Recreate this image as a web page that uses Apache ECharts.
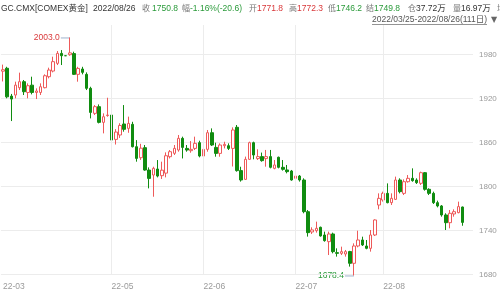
<!DOCTYPE html>
<html><head><meta charset="utf-8">
<script src="https://cdn.jsdelivr.net/npm/echarts@6/dist/echarts.min.js"></script>
<style>html,body{margin:0;padding:0;background:#fff}#c{width:500px;height:293px}</style>
</head><body><div id="c"></div>
<script>
// ---- categories (trading days) ----
const dates = [
'2022-03-25','2022-03-28','2022-03-29','2022-03-30','2022-03-31',
'2022-04-01','2022-04-04','2022-04-05','2022-04-06','2022-04-07','2022-04-08','2022-04-11','2022-04-12','2022-04-13','2022-04-14','2022-04-15','2022-04-18','2022-04-19','2022-04-20','2022-04-21','2022-04-22','2022-04-25','2022-04-26','2022-04-27','2022-04-28','2022-04-29',
'2022-05-02','2022-05-03','2022-05-04','2022-05-05','2022-05-06','2022-05-09','2022-05-10','2022-05-11','2022-05-12','2022-05-13','2022-05-16','2022-05-17','2022-05-18','2022-05-19','2022-05-20','2022-05-23','2022-05-24','2022-05-25','2022-05-26','2022-05-27','2022-05-30','2022-05-31',
'2022-06-01','2022-06-02','2022-06-03','2022-06-06','2022-06-07','2022-06-08','2022-06-09','2022-06-10','2022-06-13','2022-06-14','2022-06-15','2022-06-16','2022-06-17','2022-06-20','2022-06-21','2022-06-22','2022-06-23','2022-06-24','2022-06-27','2022-06-28','2022-06-29','2022-06-30',
'2022-07-01','2022-07-04','2022-07-05','2022-07-06','2022-07-07','2022-07-08','2022-07-11','2022-07-12','2022-07-13','2022-07-14','2022-07-15','2022-07-18','2022-07-19','2022-07-20','2022-07-21','2022-07-22','2022-07-25','2022-07-26','2022-07-27','2022-07-28','2022-07-29',
'2022-08-01','2022-08-02','2022-08-03','2022-08-04','2022-08-05','2022-08-08','2022-08-09','2022-08-10','2022-08-11','2022-08-12','2022-08-15','2022-08-16','2022-08-17','2022-08-18','2022-08-19','2022-08-22','2022-08-23','2022-08-24','2022-08-25','2022-08-26'
];
// ---- series values ----
const opens = [
1957,1961,1923,1924.5,1934.5,1942.7,1928,1938,1928,1928,1934.5,1949.5,1957.2,1967.7,1981.3,1978.1,1979.5,1981,1952.7,1960,1952.7,1933.6,1899.5,1908.6,1887.2,1896.5,
1897.2,1864,1870,1885,1879,1884.5,1854,1839,1852.7,1822.2,1815.4,1823.6,1814.5,1818,1840.4,1845,1849.5,1865.4,1851.7,1848.6,1851.7,1859.5,
1841.3,1850.4,1873.1,1853.1,1844.9,1855.4,1855.4,1851.7,1880.5,1821.4,1809.5,1836.8,1859.5,1837.8,1840.5,1837.8,1840.5,1824.5,1839.6,1825.9,1822.3,1820.9,
1810.9,1814,1808.6,1765.4,1737.7,1739.5,1744.1,1733.6,1724.5,1735,1709.5,1708.6,1707.7,1711,1695,1718.6,1726.8,1718.6,1715.4,1733.6,1774.5,
1781.3,1790.4,1777.7,1782.2,1808.6,1790.4,1806.3,1810.9,1808.6,1804.1,1818.6,1795.9,1790.4,1777.7,1773.2,1760.9,1750.4,1762.3,1764.1,1771.8
];
const closes = [
1959,1922,1919,1938,1942.7,1929,1937.2,1928,1930,1935.8,1950.8,1958.6,1970,1981.3,1978.1,1978.1,1982,1952.7,1960.8,1955.4,1933.6,1900.8,1908.6,1887.2,1894.9,1897.2,
1863.1,1874,1883,1877.7,1885.8,1854,1838.1,1852,1822.2,1810.8,1824.5,1814,1822,1841.7,1847.2,1851.7,1865.4,1853.1,1849.5,1850.4,1858.6,1841.3,
1850.4,1873.1,1856.3,1844.9,1856.3,1857.2,1851.7,1876.8,1821.4,1808.6,1836.8,1859.5,1842.7,1840.5,1835,1840.5,1825.9,1829.1,1825.9,1823.2,1820,1808.6,
1814,1808.6,1765.4,1736.8,1740.5,1742.7,1732.3,1725.9,1735,1710.9,1708.6,1710.9,1710.9,1695,1718.6,1726.8,1720,1715.4,1733.6,1754.1,1783.6,
1790.4,1777.7,1783.6,1808.6,1792.7,1806.3,1810.9,1807.7,1805,1818.6,1795.9,1790.4,1777.7,1773.2,1760.9,1750.4,1763.2,1765.4,1772.3,1750.8
];
const lows = [
1943,1920,1889,1920,1931.3,1924.5,1920,1925.4,1919,1924.5,1933.6,1947.2,1955.4,1965.4,1965.4,1978.1,1978,1951.8,1942.7,1952.7,1931.3,1892.6,1897.2,1885.8,1872.2,1894.9,
1854,1857,1866,1874.5,1873,1853,1833.6,1836,1821.3,1797.2,1785.8,1812.2,1810,1812.2,1838,1842.7,1847.2,1838,1847.2,1845.8,1849.5,1839.5,
1830.4,1847.2,1855,1840.4,1840.4,1851.7,1849.5,1827,1820,1806.4,1808.6,1835.9,1836.8,1835.9,1833.6,1826.8,1824.5,1823.2,1824.5,1821.4,1817.7,1807.7,
1785,1806.4,1763.2,1731.4,1735,1736.8,1731.4,1724.5,1706.3,1708.6,1704.1,1706.3,1704.1,1690.5,1678.4,1716.8,1718.6,1714.1,1710.9,1732.2,1768.6,
1779.1,1776.8,1774.5,1781.3,1790.4,1788.1,1805,1806.3,1803.2,1801.8,1794.1,1788.1,1775.9,1771.3,1758.6,1740.4,1742.7,1758.6,1763.2,1746.2
];
const highs = [
1966,1963,1926,1942.7,1955,1945,1940.4,1949.5,1933.6,1940.4,1952.7,1961.8,1976.8,1984.5,1985.8,1978.1,2003.0,1983.6,1963,1963,1955.4,1935.8,1910.8,1911.7,1899.5,1920.8,
1898,1878,1886,1910.8,1895,1888,1863,1858,1856.3,1825.8,1826.7,1835.8,1833.6,1846.3,1849.5,1856.3,1870,1867.7,1856.3,1861.7,1867.7,1862.2,
1854,1876.8,1879,1859.5,1858.6,1860.8,1858.6,1880.4,1883.6,1826.7,1840.5,1860.9,1860.9,1850.5,1846,1849.6,1849.6,1835.9,1840.5,1835.9,1829.1,1822.3,
1815.4,1815.4,1810.9,1767.7,1744.1,1751.8,1745,1738.2,1738.2,1736.8,1715.4,1717.7,1713.2,1712,1722.2,1739.5,1731.3,1726.8,1740.4,1755,1790.4,
1792.7,1804,1790.4,1813.2,1810.9,1809.5,1815.4,1824.5,1810.9,1820,1819.5,1797.3,1792.7,1780.4,1774.5,1763.2,1767.7,1768.6,1779.1,1772.3
];
// ---- axis tick labels ----
const xTickDates  = ['2022-03-25','2022-05-02','2022-06-01','2022-07-01','2022-08-01'];
const xTickLabels = ['22-03','22-05','22-06','22-07','22-08'];
const yMin = 1680, yMax = 2020, yStep = 60;
// ---- header texts ----
const headerTexts = ['GC.CMX[COMEX黄金]','2022/08/26','收','1750.8','幅','-1.16%(-20.6)','开','1771.8','高','1772.3','低','1746.2','结','1749.8','仓','37.72万','量','16.97万','增'];
const headerKinds = ['n','n','l','dn','l','dn','l','up','l','up','l','dn','l','dn','l','n','l','n','l'];

// ---- layout / style ----
const headerX = [1,93,142,152,182,190,249,257,289,297,328,336,366,374,408,416,453,461,497];
const RED = '#ee5a5a', GREEN = '#108c10';
const TXT_RED = '#d9383a', TXT_GREEN = '#2a9a3a';
const FONT = "'Liberation Sans','Noto Sans CJK SC',sans-serif";

const chart = echarts.init(document.getElementById('c'), null, {renderer:'canvas'});
const candle = opens.map((o,i)=>[o, closes[i], lows[i], highs[i]]);
const tickIdx = xTickDates.map(d=>dates.indexOf(d));

const kindColor = {n:'#333', l:'#777', up:TXT_RED, dn:TXT_GREEN};
const graphics = headerTexts.map((t,i)=>({
  type:'text', x:headerX[i], y:8.5, silent:true,
  style:{text:t, fill:kindColor[headerKinds[i]], fontSize:(headerKinds[i]==='l'?8:8.5), fontFamily:FONT, verticalAlign:'middle', align:'left'}
}));
// range text (right aligned) + underline + triangle
const rangeText = dates[0].replace(/-/g,'/') + '-' + dates[dates.length-1].replace(/-/g,'/') + '(' + dates.length + '日)';
const ctx = document.createElement('canvas').getContext('2d');
ctx.font = '8.5px ' + FONT;
const rw = ctx.measureText(rangeText).width;
graphics.push({type:'text', x:487, y:20, silent:true, style:{text:rangeText, fill:'#555', fontSize:8.5, fontFamily:FONT, align:'right', verticalAlign:'middle'}});
graphics.push({type:'line', silent:true, shape:{x1:487-rw, y1:24.5, x2:487, y2:24.5}, style:{stroke:'#777', lineWidth:0.8}});
graphics.push({type:'text', x:494, y:19.5, silent:true, style:{text:'▼', fill:'#666', fontSize:8, fontFamily:"'DejaVu Sans',sans-serif", align:'center', verticalAlign:'middle'}});

chart.setOption({
  animation:false,
  backgroundColor:'#fff',
  grid:{left:0, right:27, top:25, bottom:18.7, containLabel:false},
  xAxis:{
    type:'category', data:dates, max:dates.length+1, boundaryGap:true,
    axisLine:{show:false}, axisTick:{show:false}, splitLine:{show:false},
    axisLabel:{
      interval:(i)=>tickIdx.indexOf(i)>=0,
      formatter:(v,i)=>{const k=tickIdx.indexOf(i); return k>=0?xTickLabels[k]:'';},
      align:'left', margin:8, color:'#9a9a9a', fontSize:8.5, fontFamily:FONT
    }
  },
  yAxis:{
    type:'value', position:'right', min:yMin, max:yMax, interval:yStep, scale:true,
    axisLine:{show:false}, axisTick:{show:false},
    splitLine:{show:true, showMaxLine:false, lineStyle:{color:'#ececec', width:1}},
    axisLabel:{showMaxLabel:false, color:'#9a9a9a', fontSize:8, margin:6, fontFamily:FONT, formatter:(v)=>String(v)}
  },
  series:[{
    type:'candlestick', data:candle, barWidth:3, clip:false,
    itemStyle:{color:'#ffffff', color0:GREEN, borderColor:RED, borderColor0:GREEN, borderColorDoji:GREEN, borderWidth:1},
    markLine:{
      silent:true, symbol:['none','none'], label:{show:false},
      lineStyle:{color:'#ececec', type:'solid', width:1},
      data: xTickDates.slice(1).map(d=>({xAxis:d}))
    }
  }],
  graphic: graphics
});

// high / low markers computed through the chart's own scales
const hiIdx = highs.indexOf(Math.max(...highs));
const loIdx = lows.indexOf(Math.min(...lows));
const ph = chart.convertToPixel({seriesIndex:0}, [hiIdx, highs[hiIdx]]);
const pl = chart.convertToPixel({seriesIndex:0}, [loIdx, lows[loIdx]]);
const LINEC = '#9fb2cc';
graphics.push(
  {type:'line', silent:true, shape:{x1:ph[0]-9, y1:ph[1]+0.5, x2:ph[0], y2:ph[1]+0.5}, style:{stroke:LINEC, lineWidth:1}},
  {type:'text', x:ph[0]-10, y:ph[1], silent:true, style:{text:highs[hiIdx].toFixed(1), fill:TXT_RED, fontSize:8.5, fontFamily:FONT, align:'right', verticalAlign:'middle'}},
  {type:'line', silent:true, shape:{x1:pl[0]-9, y1:pl[1]+0.5, x2:pl[0], y2:pl[1]+0.5}, style:{stroke:LINEC, lineWidth:1}},
  {type:'text', x:pl[0]-10, y:pl[1], silent:true, style:{text:lows[loIdx].toFixed(1), fill:TXT_GREEN, fontSize:8.5, fontFamily:FONT, align:'right', verticalAlign:'middle'}}
);
chart.setOption({graphic: graphics});
</script></body></html>
